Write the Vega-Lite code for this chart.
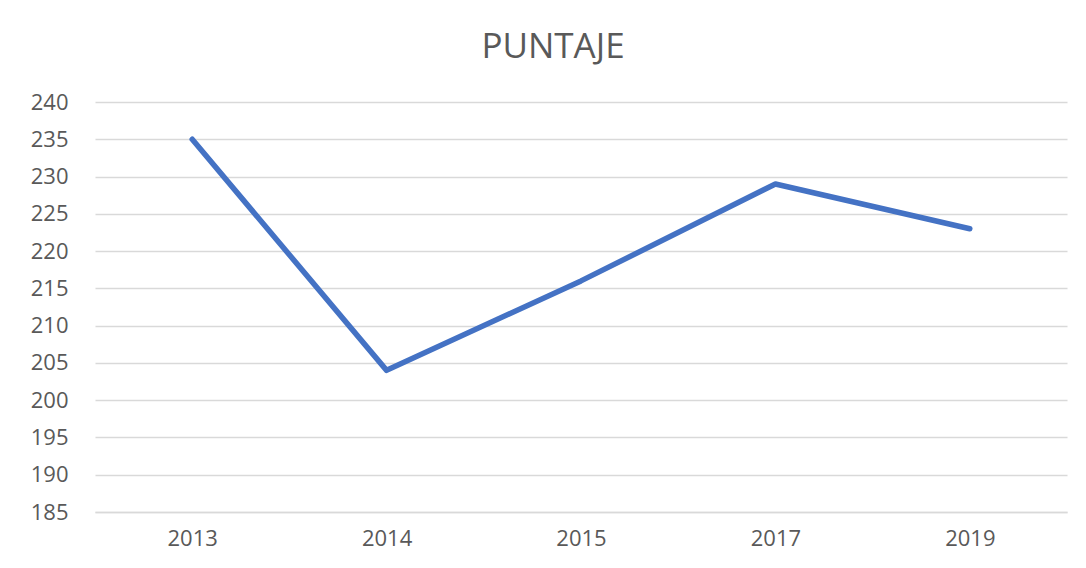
{
  "$schema": "https://vega.github.io/schema/vega-lite/v6.json",
  "autosize": {"type": "none"},
  "width": 972,
  "height": 410,
  "padding": {"left": 95, "top": 102, "right": 19, "bottom": 56},
  "background": "white",
  "title": {
    "text": "PUNTAJE",
    "anchor": "middle",
    "frame": "group",
    "dx": -28,
    "offset": -2,
    "baseline": "alphabetic",
    "font": "Open Sans",
    "fontSize": 35,
    "fontWeight": "normal",
    "color": "#595959"
  },
  "config": {
    "view": {"stroke": null},
    "axis": {
      "labelFont": "Open Sans",
      "labelFontSize": 22,
      "labelColor": "#595959",
      "ticks": false,
      "title": null,
      "gridColor": "#d9d9d9",
      "gridWidth": 1.5
    }
  },
  "data": {
    "values": [
      {"year": "2013", "score": 235},
      {"year": "2014", "score": 204},
      {"year": "2015", "score": 216},
      {"year": "2017", "score": 229},
      {"year": "2019", "score": 223}
    ]
  },
  "mark": {"type": "line", "color": "#4472C4", "strokeWidth": 5.5, "strokeCap": "round", "strokeJoin": "round"},
  "encoding": {
    "x": {
      "field": "year",
      "type": "ordinal",
      "scale": {"type": "point", "padding": 0.5},
      "axis": {"labelAngle": 0, "domain": true, "domainColor": "#d9d9d9", "domainWidth": 1.5, "grid": false, "labelPadding": 16}
    },
    "y": {
      "field": "score",
      "type": "quantitative",
      "scale": {"domain": [185, 240], "nice": false, "zero": false},
      "axis": {"values": [185, 190, 195, 200, 205, 210, 215, 220, 225, 230, 235, 240], "domain": false, "labelPadding": 27, "grid": true}
    }
  }
}
